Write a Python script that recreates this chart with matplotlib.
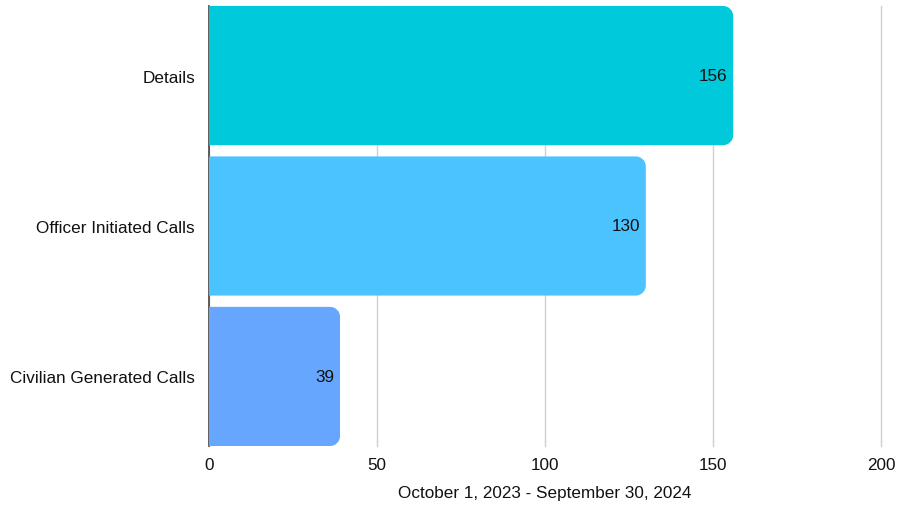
import matplotlib
matplotlib.use("Agg")
import matplotlib.pyplot as plt
from matplotlib.path import Path
from matplotlib.patches import PathPatch

categories = ["Details", "Officer Initiated Calls", "Civilian Generated Calls"]
values = [156, 130, 39]
colors = ["#00C9DB", "#4BC3FF", "#66A6FF"]
x_ticks = [0, 50, 100, 150, 200]
x_label = "October 1, 2023 - September 30, 2024"

plt.rcParams["font.family"] = ["Liberation Sans", "DejaVu Sans"]
FS = 12.3

W, H, DPI = 909, 506, 100
fig = plt.figure(figsize=(W / DPI, H / DPI), dpi=DPI)
ax = fig.add_axes([209 / W, 1 - 447 / H, (881 - 209) / W, (447 - 7) / H])

bar_h = 0.925
ypos = list(range(len(categories)))
bars = ax.barh(ypos, values, height=bar_h, color="none", edgecolor="none")
ax.set_xlim(0, 200)
ax.set_ylim(len(categories) - 1 + bar_h / 2, -bar_h / 2)

# rounded right-hand corners, radius given in pixels
r_px = 10
ax_w_px = 881 - 209
ax_h_px = 447 - 7
rx = r_px * 200 / ax_w_px
ry = r_px * (len(categories) - 1 + bar_h) / ax_h_px
k = 0.5523

for rect, c in zip(bars, colors):
    x0, y0 = rect.get_x(), rect.get_y()
    w, h = rect.get_width(), rect.get_height()
    x1, y1 = x0 + w, y0 + h
    verts = [
        (x0, y0), (x1 - rx, y0),
        (x1 - rx + k * rx, y0), (x1, y0 + ry - k * ry), (x1, y0 + ry),
        (x1, y1 - ry),
        (x1, y1 - ry + k * ry), (x1 - rx + k * rx, y1), (x1 - rx, y1),
        (x0, y1), (x0, y0),
    ]
    codes = [Path.MOVETO, Path.LINETO,
             Path.CURVE4, Path.CURVE4, Path.CURVE4,
             Path.LINETO,
             Path.CURVE4, Path.CURVE4, Path.CURVE4,
             Path.LINETO, Path.CLOSEPOLY]
    ax.add_patch(PathPatch(Path(verts, codes), facecolor=c, edgecolor="none", zorder=3))

for y, v in zip(ypos, values):
    ax.annotate(str(v), (v, y), xytext=(-4, 0), textcoords="offset points",
                ha="right", va="center", fontsize=FS, color="#111111", zorder=4)

ax.set_yticks(ypos)
ax.set_yticklabels(categories, fontsize=FS, color="#111111")
ax.set_xticks(x_ticks)
ax.set_xticklabels([str(t) for t in x_ticks], fontsize=FS, color="#111111")
ax.tick_params(axis="y", length=0, pad=10)
ax.tick_params(axis="x", length=0, pad=8)
ax.set_xlabel(x_label, fontsize=FS, color="#111111", labelpad=9)

ax.grid(axis="x", color="#d0d0d0", linewidth=1)
for gl in ax.get_xgridlines():
    gl.set_clip_on(False)
ax.set_axisbelow(True)
for s in ["top", "right", "bottom"]:
    ax.spines[s].set_visible(False)
ax.spines["left"].set_color("#444444")
ax.spines["left"].set_linewidth(1.2)
ax.spines["left"].set_zorder(2)

fig.savefig("out.png", dpi=DPI)
